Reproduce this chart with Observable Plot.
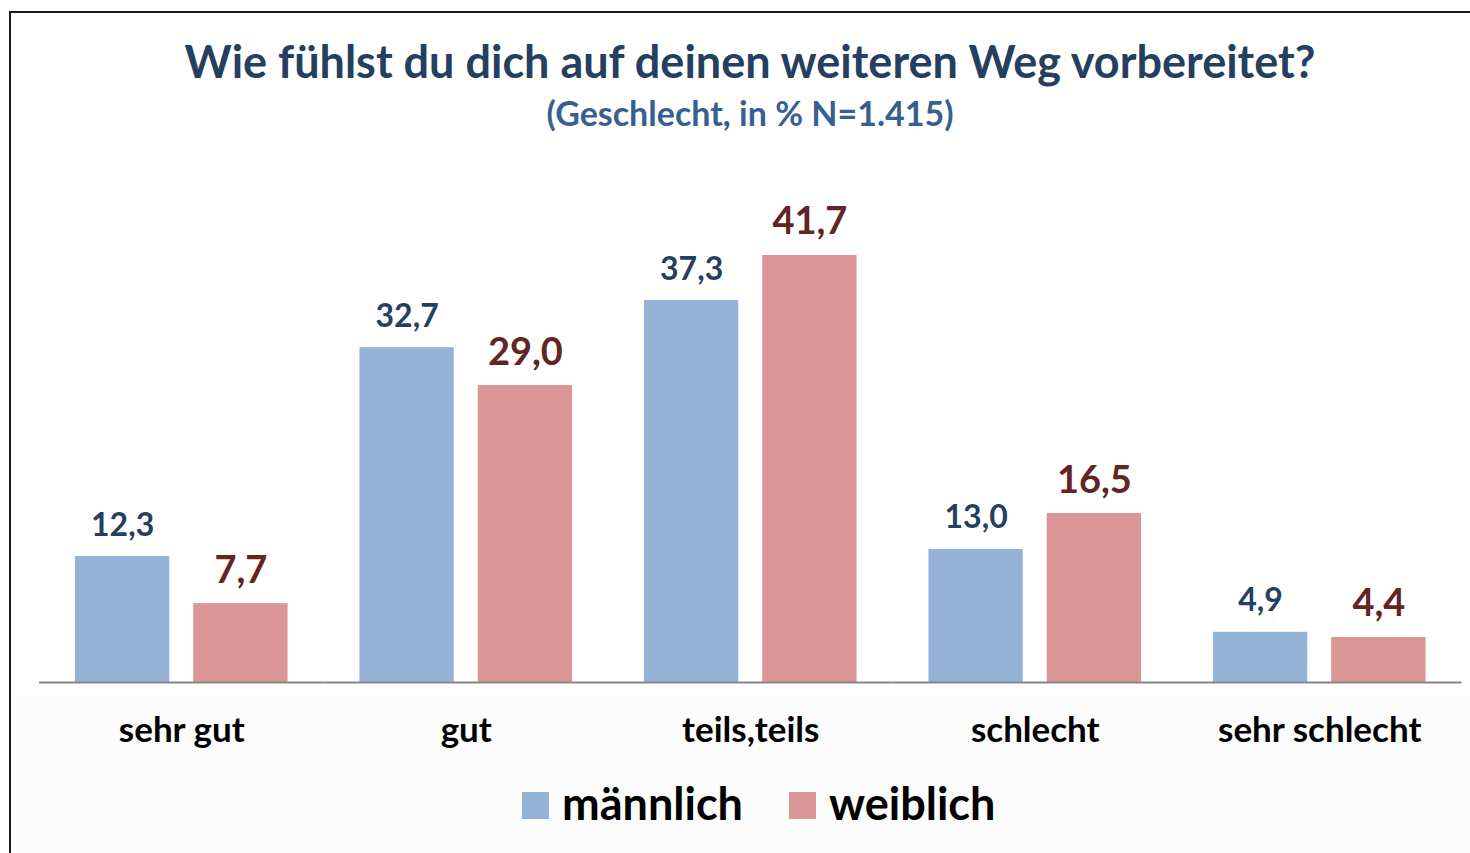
<!DOCTYPE html>
<html>
<head>
<meta charset="utf-8">
<script src="https://cdn.jsdelivr.net/npm/d3@7"></script>
<script src="https://cdn.jsdelivr.net/npm/@observablehq/plot@0.6"></script>
<style>
  html, body { margin: 0; padding: 0; background: #fff; }
  body { width: 1470px; height: 853px; position: relative; overflow: hidden; font-family: Lato, "Open Sans", sans-serif; }
  #frame { position: absolute; left: 9px; top: 11px; right: -10px; bottom: -10px; border-left: 2px solid #1a1a1a; border-top: 2px solid #1a1a1a; }
  #lowerbg { position: absolute; left: 11px; top: 697px; right: 0; bottom: 0; background: #fcfcfc; }
  .title { position: absolute; left: 0; width: 1500px; text-align: center; font-weight: bold; line-height: 1; white-space: nowrap; }
  #t1 { top: 39px; font-size: 45px; color: #243f60; }
  #t2 { top: 96px; font-size: 34px; color: #376092; }
  #chart { position: absolute; left: 0; top: 0; }
  #legend { position: absolute; left: 522px; top: 781px; display: flex; align-items: flex-start; font-size: 45px; font-weight: bold; line-height: 1; color: #000; }
  .sw { width: 27px; height: 27px; display: inline-block; margin-right: 13px; margin-top: 11px; }
  .item { display: flex; align-items: flex-start; margin-right: 46px; }
</style>
</head>
<body>
<div id="lowerbg"></div>
<div id="frame"></div>
<div class="title" id="t1">Wie fühlst du dich auf deinen weiteren Weg vorbereitet?</div>
<div class="title" id="t2">(Geschlecht, in % N=1.415)</div>
<div id="chart"></div>
<div id="legend"></div>
<script>
const categories = ["sehr gut", "gut", "teils,teils", "schlecht", "sehr schlecht"];
const series = ["männlich", "weiblich"];
const maleValues = [12.3, 32.7, 37.3, 13.0, 4.9];
const femaleValues = [7.7, 29.0, 41.7, 16.5, 4.4];
const barColors = ["#95b3d7", "#d99694"];
const labelColors = ["#243f60", "#632523"];

const data = categories.flatMap((c, i) => [
  {cat: c, sex: series[0], value: maleValues[i]},
  {cat: c, sex: series[1], value: femaleValues[i]}
]);
const fmt = v => d3.format(".1f")(v).replace(".", ",");

const chart = Plot.plot({
  width: 1470,
  height: 760,
  marginTop: 170,
  marginBottom: 78,
  marginLeft: 39,
  marginRight: 8.5,
  style: {background: "transparent", fontFamily: "Lato, 'Open Sans', sans-serif", overflow: "visible"},
  facet: {marginTop: 0, marginBottom: 0, marginLeft: 0, marginRight: 0},
  fx: {domain: categories, paddingInner: 0, paddingOuter: 0, round: false, label: null},
  x: {domain: series, paddingInner: 0.2025, paddingOuter: 0.3038, round: false, axis: null},
  y: {domain: [0, 50], axis: null},
  color: {domain: series, range: barColors},
  marks: [
    Plot.barY(data, {fx: "cat", x: "sex", y: "value", fill: "sex"}),
    Plot.ruleY([0], {stroke: "#868686", strokeWidth: 2}),
    Plot.text(data.filter(d => d.sex === series[0]), {
      fx: "cat", x: "sex", y: "value", text: d => fmt(d.value),
      lineAnchor: "bottom", dy: -21, fontSize: 32, fontWeight: "bold", fill: labelColors[0]
    }),
    Plot.text(data.filter(d => d.sex === series[1]), {
      fx: "cat", x: "sex", y: "value", text: d => fmt(d.value),
      lineAnchor: "bottom", dy: -21, fontSize: 38, fontWeight: "bold", fill: labelColors[1]
    }),
    Plot.axisFx({anchor: "bottom", tickSize: 0, tickPadding: 35, fontSize: 35, fontWeight: "bold", fill: "#000", label: null})
  ]
});
document.getElementById("chart").appendChild(chart);

const legend = document.getElementById("legend");
series.forEach((s, i) => {
  const item = document.createElement("div");
  item.className = "item";
  const sw = document.createElement("span");
  sw.className = "sw";
  sw.style.background = barColors[i];
  item.appendChild(sw);
  item.appendChild(document.createTextNode(s));
  legend.appendChild(item);
});
</script>
</body>
</html>
